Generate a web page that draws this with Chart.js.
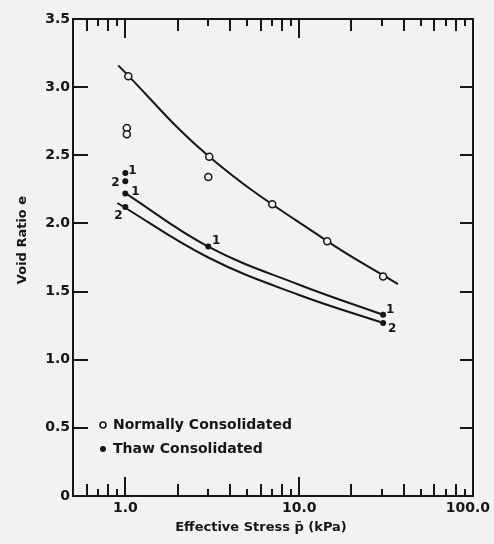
<!DOCTYPE html>
<html>
<head>
<meta charset="utf-8">
<script src="https://cdn.jsdelivr.net/npm/chart.js@4.4.1/dist/chart.umd.min.js"></script>
<style>
  html, body { margin: 0; padding: 0; background: #f2f2f0; }
  canvas { display: block; }
</style>
</head>
<body>
<canvas id="chart" width="494" height="544"></canvas>
<script>
  // measured points, normally consolidated (open circles)
  const ncStress = [1.04, 1.02, 1.02, 3.04, 3.0, 7.0, 14.5, 30.4];
  const ncVoid = [3.08, 2.70, 2.655, 2.49, 2.34, 2.14, 1.87, 1.61];

  // measured points, thaw consolidated (filled dots) with specimen tags
  const thawStress = [1.0, 1.0, 1.0, 1.0, 3.0, 30.4, 30.4];
  const thawVoid = [2.37, 2.31, 2.22, 2.12, 1.83, 1.33, 1.27];
  const thawTags = ["1", "2", "1", "2", "1", "1", "2"];

  // fitted curves
  const ncCurveStress = [0.91, 3.04, 14.5, 37];
  const ncCurveVoid = [3.16, 2.49, 1.87, 1.555];
  const curve1Stress = [0.98, 3.0, 10, 30.4];
  const curve1Void = [2.23, 1.83, 1.55, 1.33];
  const curve2Stress = [0.9, 3.0, 10, 30.4];
  const curve2Void = [2.15, 1.75, 1.475, 1.27];

  // axes
  const xMajorTicks = [1, 10, 100];
  const xMinorTicks = [0.6, 0.7, 0.8, 0.9, 2, 3, 4, 5, 6, 7, 8, 9, 20, 30, 40, 50, 60, 70, 80, 90];
  const yTicks = [0.5, 1.0, 1.5, 2.0, 2.5, 3.0];
  const xTitle = "Effective Stress p\u0304 (kPa)";
  const yTitle = "Void Ratio e";

  const ink = "#161616";
  const paper = "#f2f2f0";
  const font = "DejaVu Sans";

  // where each tag sits relative to its dot
  const tagOffsets = [[7, -2], [-10, 2], [10, -2], [-7, 9], [8, -6], [7, -5], [9, 6]];

  const toXY = (xs, ys) => xs.map((v, i) => ({ x: v, y: ys[i] }));

  const paperPlugin = {
    id: "paper",
    beforeDraw(chart) {
      const { ctx } = chart;
      ctx.save();
      ctx.fillStyle = paper;
      ctx.fillRect(0, 0, chart.width, chart.height);
      ctx.restore();
    }
  };

  const framePlugin = {
    id: "frame",
    beforeDatasetsDraw(chart) {
      const { ctx, chartArea: a, scales: { x, y } } = chart;
      ctx.save();
      ctx.strokeStyle = ink;
      ctx.lineWidth = 2;
      ctx.strokeRect(a.left, a.top, a.right - a.left, a.bottom - a.top);
      ctx.beginPath();
      const xt = (v, len) => {
        const px = Math.round(x.getPixelForValue(v));
        ctx.moveTo(px, a.bottom);
        ctx.lineTo(px, a.bottom - len);
        ctx.moveTo(px, a.top);
        ctx.lineTo(px, a.top + len);
      };
      xMajorTicks.forEach((v) => xt(v, 19));
      xMinorTicks.forEach((v, i) => xt(v, i % 2 === 0 ? 12 : 7));
      yTicks.forEach((v) => {
        const py = Math.round(y.getPixelForValue(v));
        ctx.moveTo(a.left, py);
        ctx.lineTo(a.left + 15, py);
        ctx.moveTo(a.right, py);
        ctx.lineTo(a.right - 13, py);
      });
      ctx.stroke();

      // x tick labels, kept inside the canvas on the right
      ctx.fillStyle = ink;
      ctx.font = "bold 14px " + font;
      ctx.textAlign = "center";
      ctx.textBaseline = "middle";
      xMajorTicks.forEach((v) => {
        const text = v.toFixed(1);
        const w = ctx.measureText(text).width;
        const px = Math.min(x.getPixelForValue(v), chart.width - 4 - w / 2);
        ctx.fillText(text, px, 508);
      });
      ctx.restore();
    },
    afterDraw(chart) {
      const { ctx, chartArea: a } = chart;
      ctx.save();
      ctx.fillStyle = ink;
      ctx.font = "bold 13px " + font;
      ctx.textAlign = "center";
      ctx.textBaseline = "middle";
      ctx.fillText(xTitle, 261, 528);
      ctx.translate(23, 240);
      ctx.rotate(-Math.PI / 2);
      ctx.fillText(yTitle, 0, 0);
      ctx.restore();

      // tags next to the thaw consolidated dots
      const meta = chart.getDatasetMeta(1);
      ctx.save();
      ctx.fillStyle = ink;
      ctx.font = "bold 12px " + font;
      ctx.textAlign = "center";
      ctx.textBaseline = "middle";
      meta.data.forEach((pt, i) => {
        const [dx, dy] = tagOffsets[i];
        ctx.fillText(thawTags[i], pt.x + dx, pt.y + dy);
      });
      ctx.restore();

      // legend inside the plot
      ctx.save();
      ctx.font = "bold 14px " + font;
      ctx.textBaseline = "middle";
      ctx.textAlign = "left";
      const rows = [chart.data.datasets[0], chart.data.datasets[1]];
      rows.forEach((ds, i) => {
        const cx = a.left + 30;
        const cy = 425 + i * 24;
        ctx.beginPath();
        ctx.arc(cx, cy, 3, 0, Math.PI * 2);
        if (i === 0) {
          ctx.strokeStyle = ink;
          ctx.lineWidth = 1.5;
          ctx.stroke();
        } else {
          ctx.fillStyle = ink;
          ctx.fill();
        }
        ctx.fillStyle = ink;
        ctx.fillText(ds.label, cx + 10, cy);
      });
      ctx.restore();
    }
  };

  Chart.defaults.font.family = font;
  Chart.defaults.font.weight = "bold";
  Chart.defaults.color = ink;

  const curveStyle = {
    showLine: true,
    tension: 0.4,
    pointRadius: 0,
    borderWidth: 2,
    borderColor: ink
  };

  new Chart(document.getElementById("chart"), {
    type: "scatter",
    data: {
      datasets: [
        {
          label: "Normally Consolidated",
          data: toXY(ncStress, ncVoid),
          pointRadius: 3.5,
          borderWidth: 1.5,
          borderColor: ink,
          backgroundColor: paper
        },
        {
          label: "Thaw Consolidated",
          data: toXY(thawStress, thawVoid),
          pointRadius: 3,
          borderWidth: 0,
          backgroundColor: ink
        },
        { label: "NC fit", data: toXY(ncCurveStress, ncCurveVoid), ...curveStyle },
        { label: "Thaw fit 1", data: toXY(curve1Stress, curve1Void), ...curveStyle },
        { label: "Thaw fit 2", data: toXY(curve2Stress, curve2Void), ...curveStyle }
      ]
    },
    options: {
      responsive: false,
      animation: false,
      devicePixelRatio: 1,
      layout: { padding: { left: 0, right: 21, top: 19, bottom: 0 } },
      plugins: {
        legend: { display: false },
        tooltip: { enabled: false }
      },
      scales: {
        x: {
          type: "logarithmic",
          min: 0.5,
          max: 100,
          grid: { display: false, drawTicks: false },
          border: { display: false },
          afterBuildTicks(scale) {
            scale.ticks = xMajorTicks.map((v) => ({ value: v }));
          },
          afterFit(scale) {
            scale.height = 48;
            scale.paddingLeft = 0;
            scale.paddingRight = 0;
          },
          ticks: { display: false }
        },
        y: {
          min: 0,
          max: 3.5,
          grid: { display: false, drawTicks: false },
          border: { display: false },
          afterFit(scale) {
            scale.width = 73;
            scale.paddingTop = 0;
            scale.paddingBottom = 0;
          },
          ticks: {
            stepSize: 0.5,
            padding: 3,
            font: { size: 14 },
            callback: (v) => (v === 0 ? "0" : v.toFixed(1))
          }
        }
      }
    },
    plugins: [paperPlugin, framePlugin]
  });
</script>
</body>
</html>
